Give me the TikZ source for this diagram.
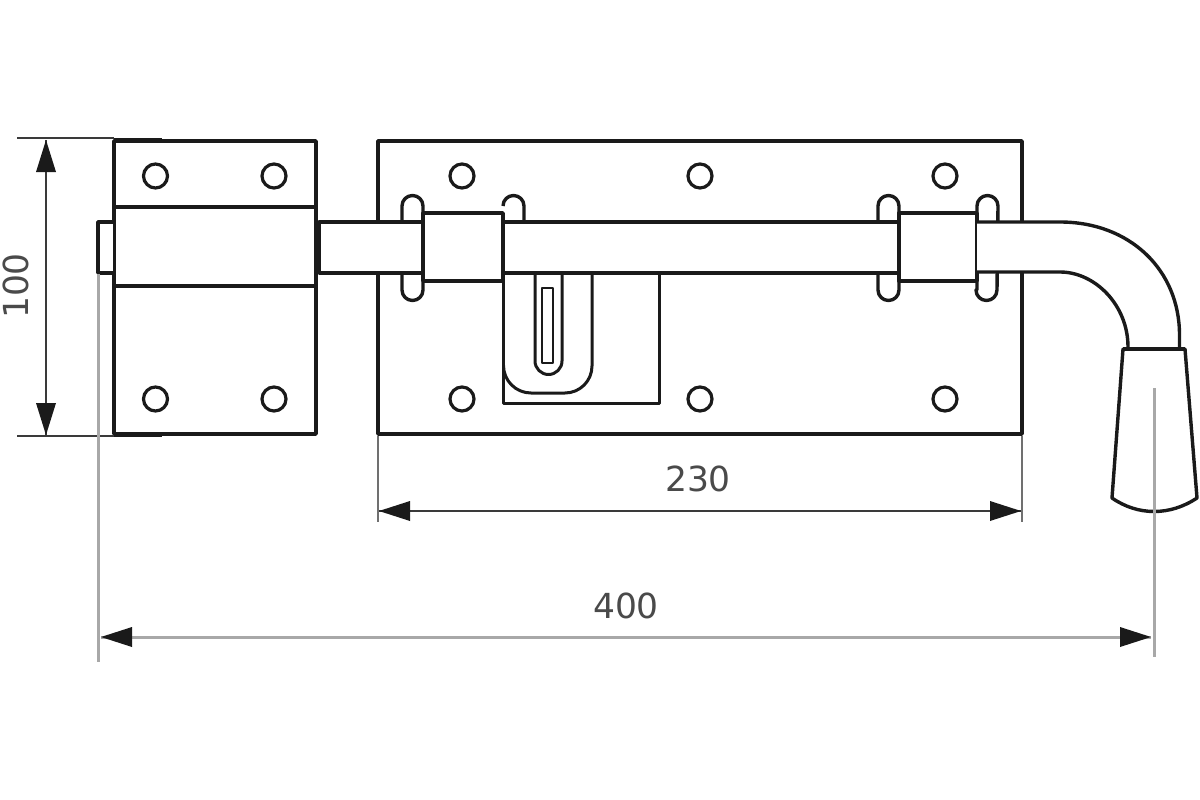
\documentclass[tikz,border=0pt]{standalone}
\usepackage{fontspec}
\setmainfont{DejaVu Sans}
\usetikzlibrary{calc}
\definecolor{ink}{HTML}{1A1A1A}
\definecolor{dimgrey}{HTML}{A8A8A8}
\definecolor{dimdark}{HTML}{3A3A3A}
\definecolor{extgrey}{HTML}{707070}
\definecolor{textgrey}{HTML}{4A4A4A}
\tikzset{
  part/.style={draw=ink,line width=3.4pt,fill=white,line join=round},
  thin part/.style={draw=ink,line width=3pt,line join=round},
  hole/.style={draw=ink,line width=3.2pt,fill=white},
  dimthin/.style={draw=dimdark,line width=1.8pt},
  extthin/.style={draw=dimdark,line width=1.5pt},
  greyline/.style={draw=dimgrey,line width=3pt},
  arrowhead/.style={fill=ink,draw=none},
  dimtext/.style={text=textgrey,font=\fontsize{34.5}{34.5}\selectfont,inner sep=0pt},
}
\newcommand{\screw}[2]{\draw[hole] (#1,#2) circle (12);}
\newcommand{\headright}[2]{\fill[arrowhead] (#1,#2) -- ++(-31,-10) -- ++(0,20) -- cycle;}
\newcommand{\headleft}[2]{\fill[arrowhead] (#1,#2) -- ++(31,-10) -- ++(0,20) -- cycle;}
\newcommand{\slotshape}[2]{\draw[part] (#1,290) -- (#1,206) arc[start angle=180,end angle=360,radius=10.5] -- (#2,290) arc[start angle=0,end angle=180,radius=10.5] -- cycle;}
\begin{document}
\begin{tikzpicture}[x=1pt,y=-1pt]
\useasboundingbox[fill=white] (0,0) rectangle (1200,800);

% left keeper
\draw[part] (114,141) rectangle (316,434);
\draw[part] (114,207) -- (316,207);
\draw[part] (114,286) -- (316,286);
\foreach \x in {155.5,274} \foreach \y in {176,399} {\screw{\x}{\y}}

% right plate
\draw[part] (378,141) rectangle (1022,434);
\foreach \x in {462,700,945} \foreach \y in {176,399} {\screw{\x}{\y}}

% catch plate and slot
\draw[thin part] (503,273) -- (503,403) -- (659,403) -- (659,273);
\draw[thin part] (592,273) -- (592,366) arc[start angle=0,end angle=90,radius=27] -- (531,393) arc[start angle=90,end angle=180,radius=27.5];
\draw[thin part] (535,273) -- (535,361) arc[start angle=180,end angle=0,radius=13.5] -- (562,273);
\draw[thin part,line width=2.6pt] (542,288) rectangle (553,363);

% staples
\slotshape{402}{423}
\draw[part,fill=none] (503,206) arc[start angle=180,end angle=360,radius=10.5] -- (524,225);
\slotshape{878}{899}
\slotshape{977}{997}

% pin stub and bolt
\draw[part] (113,222) -- (98,222) -- (98,273) -- (113,273);
\fill[white] (319,222) rectangle (423,273);
\draw[part,fill=none] (423,222) -- (319,222) -- (319,273) -- (423,273);
\fill[white] (503,222) rectangle (899,273);
\draw[part] (503,222) -- (899,222);
\draw[part] (503,273) -- (899,273);

% guide blocks
\draw[part] (423,213) rectangle (503,281);
\draw[part] (899,213) rectangle (977,281);

% handle
\fill[white] (977,222) -- (1060,222) .. controls (1130,222) and (1179.5,270) .. (1179.5,335) -- (1179.5,347)
  -- (1128,347) .. controls (1128,305) and (1095,272) .. (1060,272) -- (977,272) -- cycle;
\draw[part,fill=none] (977,222) -- (1060,222) .. controls (1130,222) and (1179.5,270) .. (1179.5,335) -- (1179.5,347);
\draw[part,fill=none] (977,272) -- (1060,272) .. controls (1095,272) and (1128,305) .. (1128,347);

% grip
\draw[part] (1123,349) -- (1185,349) -- (1197,498) .. controls (1170,516) and (1138,516) .. (1112,498) -- cycle;
\draw[draw=ink,line width=4.5pt] (1123,349) -- (1185,349);

% overall-height dimension
\coordinate (hT) at (46,140);
\coordinate (hB) at (46,435);
\draw[extthin] (17,138) -- (114,138);
\draw[extthin] (17,436) -- (114,436);
\draw[draw=ink,line width=3pt] (114,139.5) -- (162,139.5);
\draw[draw=ink,line width=3pt] (114,435.5) -- (162,435.5);
\draw[dimthin] (hT) -- (hB);
\fill[arrowhead] (hT) -- ++(-10,32) -- ++(20,0) -- cycle;
\fill[arrowhead] (hB) -- ++(-10,-32) -- ++(20,0) -- cycle;
\node[dimtext,rotate=90] (t100) at (16,286) {100};

% 230 dimension
\coordinate (pL) at (379,511);
\coordinate (pR) at (1021,511);
\draw[draw=extgrey,line width=1.4pt] (378,436) -- (378,522);
\draw[draw=extgrey,line width=1.4pt] (1022,436) -- (1022,522);
\draw[dimthin] (pL) -- (pR);
\headleft{379}{511}
\headright{1021}{511}
\node[dimtext] (t230) at (698,479) {230};

% 400 dimension
\draw[greyline] (98,274) -- (98,662);
\draw[greyline] (1154,388) -- (1154,657);
\coordinate (oL) at (101,637);
\coordinate (oR) at (1151,637);
\draw[greyline] (oL) -- (oR);
\headleft{101}{637}
\headright{1151}{637}
\node[dimtext] (t400) at (626,606) {400};
\end{tikzpicture}
\end{document}
